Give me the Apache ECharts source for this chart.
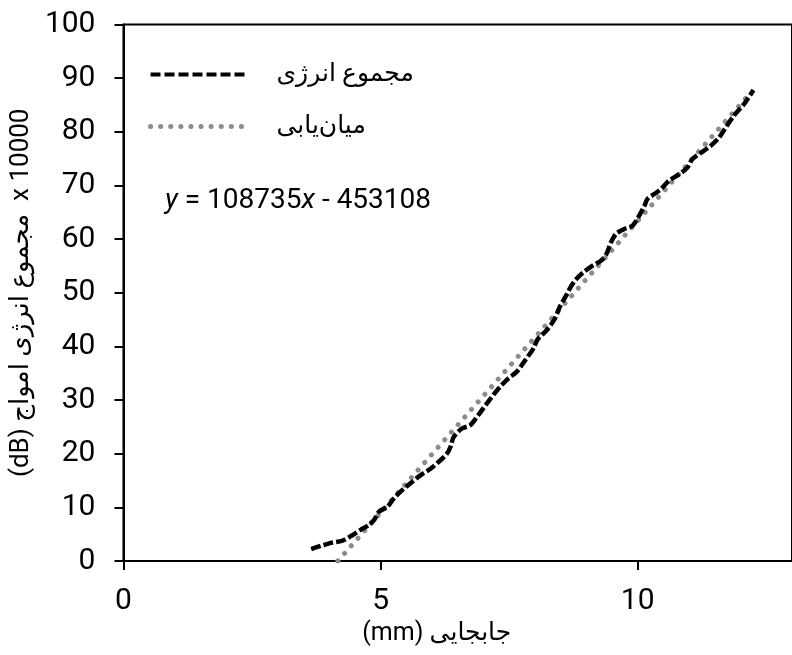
<!DOCTYPE html>
<html><head><meta charset="utf-8">
<script src="https://cdn.jsdelivr.net/npm/echarts@6/dist/echarts.min.js"></script>
<style>html,body{margin:0;padding:0;background:#fff}#c{width:792px;height:655px}</style>
</head><body><div id="c"></div>
<script>
const energyX = [3.65,4.00,4.26,4.45,4.61,4.77,4.87,4.97,5.13,5.26,5.42,5.58,5.78,5.97,6.13,6.29,6.36,6.42,6.58,6.74,6.90,7.06,7.29,7.48,7.64,7.81,7.97,8.06,8.23,8.39,8.48,8.61,8.71,8.81,8.94,9.13,9.29,9.39,9.48,9.58,9.74,9.90,10.03,10.13,10.19,10.32,10.45,10.61,10.81,10.97,11.06,11.23,11.42,11.58,11.71,11.87,12.07,12.25];
const energyY = [2.2,3.3,3.8,4.8,5.8,6.7,7.6,9.2,10.1,11.7,13.2,14.5,16.0,17.2,18.5,20.0,21.3,23.1,24.7,25.3,27.2,29.3,32.1,34.0,35.2,37.4,39.6,41.4,43.0,45.2,47.3,49.5,51.3,52.6,53.8,55.1,56.0,57.2,59.4,61.0,61.9,62.5,64.4,66.2,67.5,68.4,69.3,70.9,72.1,73.4,74.9,76.1,77.4,78.9,80.8,83.0,85.2,87.8];
const fitX = [4.17, 12.17];
const fitY = [0, 87.0];
const seriesNames = ['مجموع انرژی', 'میان‌یابی'];
const xTicks = [0, 5, 10];
const yTicks = [0,10,20,30,40,50,60,70,80,90,100];
const equation = '{i|y} = 108735{i|x} - 453108';
const xName = '(mm) جابجایی';
const yName = '(dB) مجموع انرژی امواج  x 10000';

const NUMFONT = 'Roboto, sans-serif';
const FONT = 'Roboto, DejaVu Sans, sans-serif';
const chart = echarts.init(document.getElementById('c'), null, {renderer: 'canvas'});
chart.setOption({
  animation: false,
  backgroundColor: '#fff',
  textStyle: {fontFamily: FONT, color: '#000'},
  grid: {left: 123, right: -3, top: 24.5, bottom: 94, show: true, borderColor: '#000', borderWidth: 2, containLabel: false},
  xAxis: {
    type: 'value', min: 0, max: 13, interval: 5,
    axisLine: {onZero: false, lineStyle: {color: '#000', width: 2}},
    axisTick: {show: true, length: 9, inside: false, lineStyle: {color: '#000', width: 2}},
    axisLabel: {showMaxLabel: false, margin: 25, fontSize: 30, color: '#000', fontFamily: NUMFONT,
      formatter: v => xTicks.includes(v) ? String(v) : ''},
    splitLine: {show: false},
    name: xName, nameLocation: 'middle', nameGap: 57,
    nameTextStyle: {fontSize: 25, color: '#000', fontFamily: FONT, padding: [0, 42, 0, 0]}
  },
  yAxis: {
    type: 'value', min: 0, max: 100, interval: 10,
    axisLine: {show: true, onZero: false, lineStyle: {color: '#000', width: 2}},
    axisTick: {show: true, length: 9, inside: false, lineStyle: {color: '#000', width: 2}},
    axisLabel: {margin: 28, fontSize: 30, color: '#000', fontFamily: NUMFONT,
      formatter: v => yTicks.includes(v) ? String(v) : ''},
    splitLine: {show: false},
    name: yName, nameLocation: 'middle', nameGap: 78, nameRotate: 90,
    nameTextStyle: {fontSize: 26, color: '#000', fontFamily: FONT}
  },
  legend: {
    orient: 'vertical', left: 143, top: 57, itemWidth: 97, itemHeight: 18, itemGap: 27,
    textStyle: {fontSize: 25, color: '#000', fontFamily: FONT, padding: [0, 0, 0, 24]},
    data: [
      {name: seriesNames[0], itemStyle: {opacity: 0}, lineStyle: {color: '#000', width: 4, type: [10, 4]}},
      {name: seriesNames[1], itemStyle: {opacity: 0}, lineStyle: {color: '#8c8c8c', width: 5, type: [0.1, 10], cap: 'round'}}
    ]
  },
  graphic: [{
    type: 'text', left: 165, top: 187,
    style: {text: equation, fontSize: 28, fontFamily: NUMFONT, fill: '#000',
      rich: {i: {fontStyle: 'italic', fontSize: 28, fontFamily: NUMFONT}}}
  }],
  series: [
    {name: seriesNames[1], type: 'line', symbol: 'none', z: 2,
      data: fitX.map((x, i) => [x, fitY[i]]),
      itemStyle: {color: '#8c8c8c'},
      lineStyle: {color: '#8c8c8c', width: 5, type: [0.1, 10], cap: 'round'}},
    {name: seriesNames[0], type: 'line', symbol: 'none', z: 3, smooth: 0.3,
      data: energyX.map((x, i) => [x, energyY[i]]),
      itemStyle: {color: '#000'},
      lineStyle: {color: '#000', width: 4.5, type: [10, 3]}}
  ]
});
</script></body></html>
